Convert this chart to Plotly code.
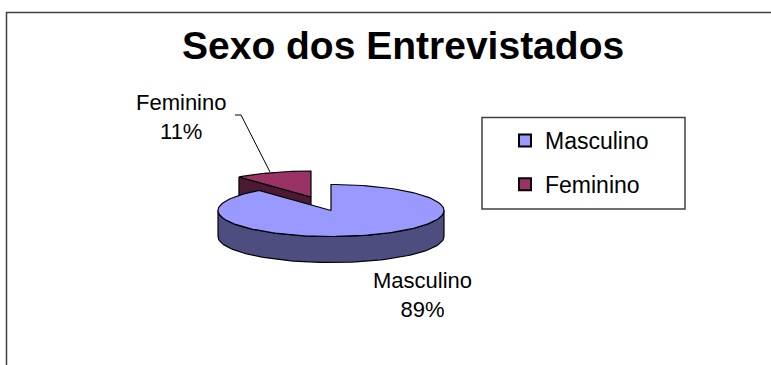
import numpy as np
import plotly.graph_objects as go

categories = ["Masculino", "Feminino"]
values = [89, 11]
title_text = "Sexo dos Entrevistados"

TOP = {"Masculino": "#9999FF", "Feminino": "#993366"}
SIDE = {"Masculino": "#4D4D80", "Feminino": "#4D1A33"}
CX, CY, RX, RY, DEPTH = 331.0, 210.5, 113.0, 26.0, 26.0
EXPLODE = (-20.0, -13.5)
total = sum(values)
split = 360.0 * values[0] / total


def rim(a, cx=CX, cy=CY, dy=0.0):
    t = np.radians(a)
    return cx + RX * np.sin(t), cy - RY * np.cos(t) + dy


fig = go.Figure()


def poly(xs, ys, color):
    fig.add_trace(go.Scatter(
        x=list(xs), y=list(ys), mode="lines", fill="toself", fillcolor=color,
        line=dict(color="black", width=1.2), hoverinfo="skip", showlegend=False,
    ))


# exploded Feminino slice: cut wall, then top face
fx, fy = CX + EXPLODE[0], CY + EXPLODE[1]
sx, sy = rim(split, fx, fy)
poly([sx, fx, fx, sx, sx], [sy, fy, fy + DEPTH, sy + DEPTH, sy], SIDE["Feminino"])
arc = np.linspace(split, 360, 40)
ax, ay = rim(arc, fx, fy)
poly(np.r_[fx, ax, fx], np.r_[fy, ay, fy], TOP["Feminino"])

# Masculino slice: outer wall, then top face
wall = np.linspace(90, 270, 80)
ux, uy = rim(wall)
lx, ly = rim(wall[::-1], dy=DEPTH)
poly(np.r_[ux, lx, ux[0]], np.r_[uy, ly, uy[0]], SIDE["Masculino"])
arc = np.linspace(0, split, 160)
ax, ay = rim(arc)
poly(np.r_[CX, ax, CX], np.r_[CY, ay, CY], TOP["Masculino"])

# legend entries
for name in categories:
    fig.add_trace(go.Scatter(
        x=[None], y=[None], mode="markers", name=name, legendgroup=name,
        marker=dict(symbol="square", size=12, color=TOP[name], line=dict(color="black", width=2)),
    ))

# leader line for the Feminino label
fig.add_trace(go.Scatter(
    x=[235, 241, 270], y=[115, 115, 172], mode="lines",
    line=dict(color="black", width=1), hoverinfo="skip", showlegend=False,
))

FONT = "Liberation Sans, Arial, sans-serif"
labels = {"Masculino": (422, 295), "Feminino": (181, 117)}
for name, v in zip(categories, values):
    x, y = labels[name]
    fig.add_annotation(x=x, y=y, xref="x", yref="y", showarrow=False, align="center",
                       text=f"{name}<br>{v}%", font=dict(family=FONT, size=22, color="black"))

fig.add_annotation(x=403, y=45, xref="x", yref="y", showarrow=False, text=f"<b>{title_text}</b>",
                   font=dict(family=FONT, size=39, color="black"))

# chart frame and legend frame
fig.add_shape(type="rect", x0=6.5, y0=12.5, x1=790, y1=380, xref="x", yref="y", layer="below",
              line=dict(color="#404040", width=1.5), fillcolor="white")
fig.add_shape(type="rect", x0=482, y0=117.5, x1=685, y1=209, xref="x", yref="y", layer="below",
              line=dict(color="#404040", width=1.5), fillcolor="white")

fig.update_layout(
    width=771, height=365, autosize=False,
    margin=dict(l=0, r=0, t=0, b=0, pad=0),
    paper_bgcolor="white", plot_bgcolor="white",
    xaxis=dict(range=[0, 771], visible=False, fixedrange=True),
    yaxis=dict(range=[365, 0], visible=False, fixedrange=True),
    showlegend=True,
    legend=dict(x=505 / 771, y=1 - 119 / 365, xanchor="left", yanchor="top",
                bgcolor="rgba(0,0,0,0)", borderwidth=0, tracegroupgap=11,
                traceorder="grouped",
                font=dict(family=FONT, size=23, color="black")),
)
fig.write_html("out.html", config={"displayModeBar": False},
               post_script="document.body.style.margin='0';document.documentElement.style.overflow='hidden';")
